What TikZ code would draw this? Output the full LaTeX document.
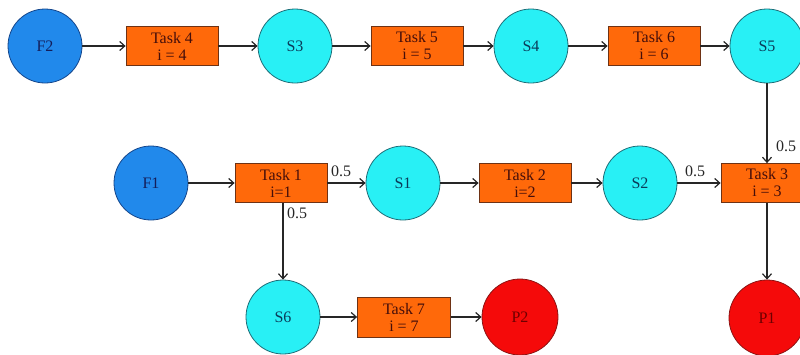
\documentclass[tikz,border=0pt]{standalone}
\usepackage{fontspec}
\setmainfont{Liberation Serif}
\usetikzlibrary{arrows.meta}
\definecolor{fblue}{RGB}{33,137,235}
\definecolor{fblueline}{RGB}{20,70,140}
\definecolor{ftext}{RGB}{20,30,90}
\definecolor{scyan}{RGB}{40,240,245}
\definecolor{scyanline}{RGB}{30,110,120}
\definecolor{stext}{RGB}{10,60,90}
\definecolor{torange}{RGB}{255,105,10}
\definecolor{torangeline}{RGB}{110,50,20}
\definecolor{ttext}{RGB}{70,15,10}
\definecolor{pred}{RGB}{245,10,10}
\definecolor{predline}{RGB}{140,20,20}
\definecolor{ptext}{RGB}{110,0,0}
\tikzset{
  base/.style={font=\fontsize{16}{17}\selectfont, inner sep=0pt, line width=0.8pt},
  source/.style={base, circle, minimum size=74pt, fill=fblue, draw=fblueline, text=ftext},
  state/.style={base, circle, minimum size=74pt, fill=scyan, draw=scyanline, text=stext},
  product/.style={base, circle, minimum size=76pt, fill=pred, draw=predline, text=ptext},
  task/.style={base, rectangle, minimum width=92pt, minimum height=39pt, fill=torange, draw=torangeline, text=ttext, align=center},
  flow/.style={line width=1.2pt, draw=black!85, -{Straight Barb[length=5pt,width=9pt,line width=1.2pt]}},
  frac/.style={font=\fontsize{16}{17}\selectfont, text=black!85, inner sep=0pt}
}
\begin{document}
\begin{tikzpicture}[x=1pt,y=-1pt]
\useasboundingbox (0,0) rectangle (800,354);
% upper chain
\node[source]  (F2) at (45,46) {F2};
\node[task]    (T4) at (172,46) {Task 4\\i = 4};
\node[state]   (S3) at (295,46) {S3};
\node[task]    (T5) at (417,46) {Task 5\\i = 5};
\node[state]   (S4) at (531,46) {S4};
\node[task]    (T6) at (654,46) {Task 6\\i = 6};
\node[state]   (S5) at (767,46) {S5};
% middle chain
\node[source]  (F1) at (151,183) {F1};
\node[task]    (T1) at (281,183) {Task 1\\i=1};
\node[state]   (S1) at (403,183) {S1};
\node[task]    (T2) at (525,183) {Task 2\\i=2};
\node[state]   (S2) at (640,183) {S2};
\node[task]    (T3) at (767,183) {Task 3\\i = 3};
% lower chain
\node[state]   (S6) at (283,317) {S6};
\node[task, minimum width=93pt, minimum height=40pt] (T7) at (404,317) {Task 7\\i = 7};
\node[product] (P2) at (520,317) {P2};
\node[product] (P1) at (767,318) {P1};
% connectors
\draw[flow] (F2) -- (T4);
\draw[flow] (T4) -- (S3);
\draw[flow] (S3) -- (T5);
\draw[flow] (T5) -- (S4);
\draw[flow] (S4) -- (T6);
\draw[flow] (T6) -- (S5);
\draw[flow] (S5) -- (T3);
\draw[flow] (F1) -- (T1);
\draw[flow] (T1) -- (S1);
\draw[flow] (S1) -- (T2);
\draw[flow] (T2) -- (S2);
\draw[flow] (S2) -- (T3);
\draw[flow] (T3) -- (P1);
\draw[flow] (T1.south -| S6.north) -- (S6.north);
\draw[flow] (S6) -- (T7);
\draw[flow] (T7) -- (P2);
% split fractions
\node[frac] (f1) at (341,171) {0.5};
\node[frac] (f2) at (297,213) {0.5};
\node[frac] (f3) at (695,171) {0.5};
\node[frac] (f4) at (786,146) {0.5};
\end{tikzpicture}
\end{document}
